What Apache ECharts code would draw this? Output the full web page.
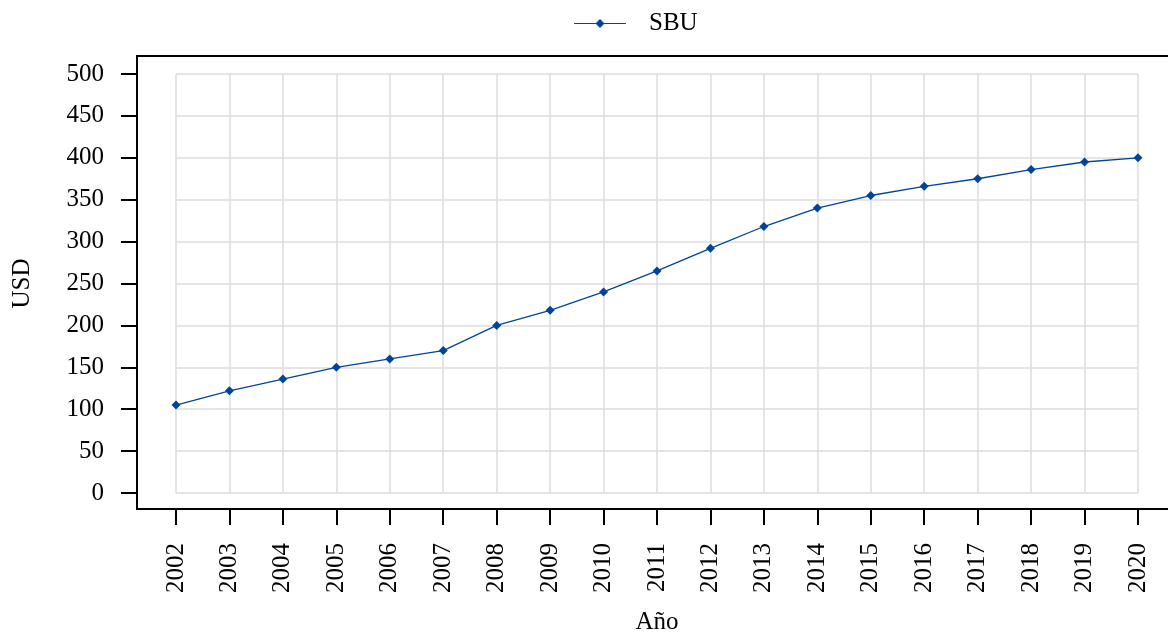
<!DOCTYPE html>
<html>
<head>
<meta charset="utf-8">
<script src="https://cdn.jsdelivr.net/npm/echarts@6/dist/echarts.min.js"></script>
<style>
  html, body { margin: 0; padding: 0; background: #ffffff; }
  #chart { width: 1168px; height: 633px; }
</style>
</head>
<body>
<div id="chart"></div>
<script>
// Años y valores de la serie SBU (USD)
const years = ['2002','2003','2004','2005','2006','2007','2008','2009','2010','2011',
               '2012','2013','2014','2015','2016','2017','2018','2019','2020'];
const sbu = [105, 122, 136, 150, 160, 170, 200, 218, 240, 265,
             292, 318, 340, 355, 366, 375, 386, 395, 400];
const seriesName = 'SBU';
const xTitle = 'Año';
const yTitle = 'USD';

const FONT = 'Liberation Serif';
const FS = 25;
const BLUE = '#00459a';

const chart = echarts.init(document.getElementById('chart'), null, { renderer: 'canvas' });

const noBounds = { containLabel: false, outerBoundsMode: 'none' };

chart.setOption({
  animation: false,
  backgroundColor: '#ffffff',
  textStyle: { fontFamily: FONT },
  legend: {
    left: 569,
    top: 6,
    itemWidth: 52,
    itemHeight: 14,
    itemGap: 10,
    textStyle: { fontFamily: FONT, fontSize: FS, color: '#000', padding: [0, 0, 0, 18] },
    data: [{ name: seriesName, icon: 'path://M0,7 L22,7 L26,3 L30,7 L52,7 L52,8 L30,8 L26,12 L22,8 L0,8 Z' }]
  },
  grid: [
    // marco exterior de los ejes
    Object.assign({ left: 137, right: -20, top: 56, bottom: 124, show: true, borderColor: '#000', borderWidth: 2,
      backgroundColor: 'transparent' }, noBounds),
    // área de datos
    Object.assign({ left: 176, right: 30, top: 74, bottom: 140 }, noBounds),
    // franja del eje X, alineada con el borde inferior del marco
    Object.assign({ left: 176, right: 30, top: 74, bottom: 124 }, noBounds)
  ],
  xAxis: [
    { gridIndex: 0, type: 'value', show: false, min: 0, max: 1 },
    {
      gridIndex: 1,
      type: 'category',
      data: years,
      boundaryGap: false,
      axisLine: { show: false },
      axisTick: { show: false },
      axisLabel: { show: false },
      splitLine: { show: true, interval: 0, lineStyle: { color: '#dcdcdc', width: 1.5 } }
    },
    {
      gridIndex: 2,
      type: 'category',
      data: years,
      boundaryGap: false,
      axisLine: { show: false },
      axisTick: { show: true, length: 16, inside: false, interval: 0, lineStyle: { color: '#000', width: 2 } },
      axisLabel: { rotate: 90, margin: 34, fontFamily: FONT, fontSize: FS, color: '#000', interval: 0 },
      splitLine: { show: false },
      name: xTitle,
      nameLocation: 'middle',
      nameGap: 101,
      nameTextStyle: { fontFamily: FONT, fontSize: FS, color: '#000' }
    }
  ],
  yAxis: [
    { gridIndex: 0, type: 'value', show: false, min: 0, max: 1 },
    {
      gridIndex: 1,
      type: 'value',
      min: 0,
      max: 500,
      interval: 50,
      offset: 39,
      axisLine: { show: false },
      axisTick: { show: true, length: 16, lineStyle: { color: '#000', width: 2 } },
      axisLabel: { margin: 33, fontFamily: FONT, fontSize: FS, color: '#000' },
      splitLine: { show: true, lineStyle: { color: '#dcdcdc', width: 1.5 } },
      name: yTitle,
      nameLocation: 'middle',
      nameGap: 102,
      nameRotate: 90,
      nameTextStyle: { fontFamily: FONT, fontSize: FS, color: '#000' }
    },
    { gridIndex: 2, type: 'value', show: false, min: 0, max: 1 }
  ],
  series: [
    {
      name: seriesName,
      type: 'line',
      xAxisIndex: 1,
      yAxisIndex: 1,
      data: sbu,
      symbol: 'diamond',
      symbolSize: 9,
      showSymbol: true,
      lineStyle: { color: BLUE, width: 1.3 },
      itemStyle: { color: BLUE }
    }
  ]
});
</script>
</body>
</html>
